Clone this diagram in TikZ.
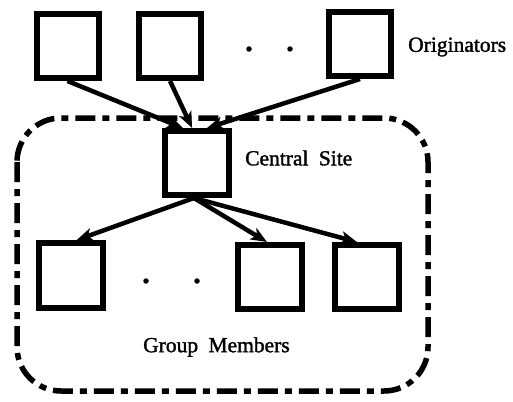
\documentclass[tikz,border=0pt]{standalone}
\usepackage{fontspec}
\setmainfont{Liberation Serif}
\newfontfamily\lblfont[FakeBold=1.5]{Liberation Serif}
\usetikzlibrary{arrows.meta}
\begin{document}
\begin{tikzpicture}[x=1pt,y=-1pt,
  site/.style={draw,line width=6pt,minimum width=62pt,minimum height=64pt,inner sep=0pt},
  link/.style={line width=4.5pt,-{Stealth[length=16pt,width=13pt,inset=4pt]}},
  lbl/.style={font=\lblfont\fontsize{21.5}{24}\selectfont,inner sep=0pt,anchor=west},
  dotmark/.style={circle,fill,inner sep=0pt,minimum size=5.5pt},
  region/.style={line width=5.5pt,rounded corners=44pt,
    dash pattern=on 20pt off 7pt on 7pt off 7pt}]
\useasboundingbox (0,0) rectangle (513,401);

% group region
\draw[region] (17,118) rectangle (428,391);

% originators
\node[site] (o1) at (67.5,46) {};
\node[site] (o2) at (170,46) {};
\node[site] (o3) at (360,44) {};
\node[dotmark] (od1) at (249,49) {};
\node[dotmark] (od2) at (290,49) {};
\node[lbl] (olbl) at (408,47) {Originators};

% central site
\node[site,minimum width=64pt,minimum height=64pt] (c) at (197,163) {};
\node[lbl] (clbl) at (245,158) {Central\hspace{5pt} Site};

% group members
\node[site,minimum width=64pt,minimum height=65pt] (m1) at (70.5,275.5) {};
\node[site,minimum width=64pt] (m2) at (270,277) {};
\node[site,minimum width=64pt] (m3) at (367,277) {};
\node[dotmark] (md1) at (146,281) {};
\node[dotmark] (md2) at (197,281) {};
\node[lbl] (glbl) at (143,347) {Group\hspace{5pt} Members};

% connections
\draw[link] (o1.south) -- (c.112);
\draw[link] (o2.south) -- (c.98);
\draw[link] (o3.south) -- (c.74);
\draw[link] (c.-95) -- (m1.80);
\draw[link] (c.-95) -- (m2.95);
\draw[link] (c.-95) -- (m3.106);
\end{tikzpicture}
\end{document}
